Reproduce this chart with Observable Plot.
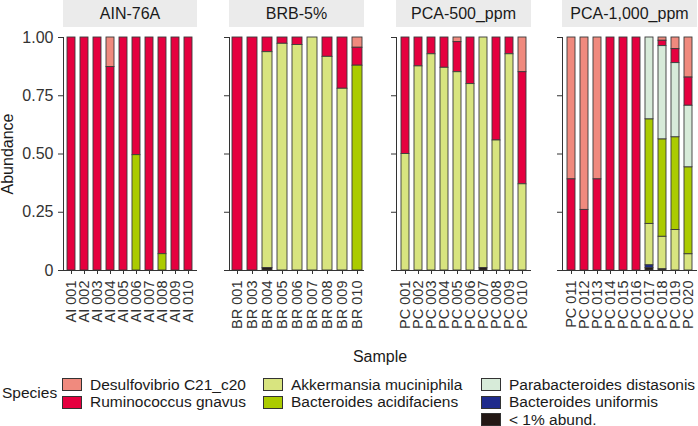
<!DOCTYPE html>
<html><head><meta charset="utf-8">
<script src="https://cdn.jsdelivr.net/npm/d3@7"></script>
<script src="https://cdn.jsdelivr.net/npm/@observablehq/plot@0.6"></script>
<style>
body{margin:0;background:#fff;}
#chart{position:relative;width:698px;height:426px;overflow:hidden;font-family:"Liberation Sans",Arial,Helvetica,sans-serif;color:#1a1a1a;}
.strip{position:absolute;top:0;height:27px;background:#EBEBEB;font-size:16px;line-height:28px;text-align:center;color:#1a1a1a;}
.panel{position:absolute;top:28px;}
.title{position:absolute;font-size:16px;color:#1a1a1a;white-space:nowrap;}
.lg-box{position:absolute;width:20px;height:13px;box-sizing:border-box;border:1px solid #333;}
.lg-text{position:absolute;font-size:15.5px;line-height:18px;white-space:nowrap;color:#1a1a1a;}
</style></head><body><div id="chart"></div>
<script>
// ---- data ----
const panelNames = ["AIN-76A", "BRB-5%", "PCA-500_ppm", "PCA-1,000_ppm"];
const samplesAIN = ["AI 001","AI 002","AI 003","AI 004","AI 005","AI 006","AI 007","AI 008","AI 009","AI 010"];
const samplesBRB = ["BR 001","BR 003","BR 004","BR 005","BR 006","BR 007","BR 008","BR 009","BR 010"];
const samplesPCA500 = ["PC 001","PC 002","PC 003","PC 004","PC 005","PC 006","PC 007","PC 008","PC 009","PC 010"];
const samplesPCA1000 = ["PC 011","PC 012","PC 013","PC 014","PC 015","PC 016","PC 017","PC 018","PC 019","PC 020"];

// legend order
const species = ["Desulfovibrio C21_c20","Ruminococcus gnavus","Akkermansia muciniphila","Bacteroides acidifaciens","Parabacteroides distasonis","Bacteroides uniformis","< 1% abund."];
const speciesColors = ["#F08A7E","#E5003F","#D8E47F","#ABCB00","#D7EBD9","#1F2B8C","#231815"];
// stacking order, bottom to top
const stackOrder = ["< 1% abund.","Bacteroides uniformis","Akkermansia muciniphila","Bacteroides acidifaciens","Parabacteroides distasonis","Ruminococcus gnavus","Desulfovibrio C21_c20"];

// values per sample, in the order AIN (10), BRB (9), PCA-500 (10), PCA-1,000 (10)
const desulfovibrio = [0,0,0,0.127,0,0,0,0,0,0,  0,0,0,0,0,0,0,0,0.044,  0,0,0,0,0.02,0,0,0,0,0.149,  0.609,0.74,0.609,0,0,0,0,0.014,0.05,0.172];
const ruminococcus  = [1,1,1,0.873,1,0.505,1,0.93,1,1,  1,1,0.063,0.027,0.032,0,0.083,0.22,0.077,  0.5,0.124,0.072,0.13,0.129,0.2,0,0.442,0.072,0.481,  0.391,0.26,0.391,1,1,1,0,0.023,0.06,0.121];
const akkermansia   = [0,0,0,0,0,0,0,0,0,0,  0,0,0.927,0.973,0.968,1,0.917,0.78,0,  0.5,0.876,0.928,0.87,0.851,0.8,0.99,0.558,0.928,0.37,  0,0,0,0,0,0,0.178,0.14,0.174,0.07];
const acidifaciens  = [0,0,0,0,0,0.495,0,0.07,0,0,  0,0,0,0,0,0,0,0,0.879,  0,0,0,0,0,0,0,0,0,0,  0,0,0,0,0,0,0.449,0.418,0.398,0.373];
const parabacteroides = [0,0,0,0,0,0,0,0,0,0,  0,0,0,0,0,0,0,0,0,  0,0,0,0,0,0,0,0,0,0,  0,0,0,0,0,0,0.351,0.4,0.318,0.264];
const uniformis     = [0,0,0,0,0,0,0,0,0,0,  0,0,0,0,0,0,0,0,0,  0,0,0,0,0,0,0,0,0,0,  0,0,0,0,0,0,0.012,0,0,0];
const lessThan1     = [0,0,0,0,0,0,0,0,0,0,  0,0,0.01,0,0,0,0,0,0,  0,0,0,0,0,0,0.01,0,0,0,  0,0,0,0,0,0,0.01,0.005,0,0];

const yTicks = [0, 0.25, 0.5, 0.75, 1];

// ---- build table ----
const panelSamples = [samplesAIN, samplesBRB, samplesPCA500, samplesPCA1000];
const seriesBySpecies = [desulfovibrio, ruminococcus, akkermansia, acidifaciens, parabacteroides, uniformis, lessThan1];
const rows = [];
let idx = 0;
panelSamples.forEach((list, p) => {
  list.forEach(s => {
    species.forEach((sp, j) => {
      const v = seriesBySpecies[j][idx];
      if (v > 0) rows.push({panel: panelNames[p], sample: s, species: sp, value: v});
    });
    idx++;
  });
});

// ---- layout ----
const chart = document.getElementById("chart");
const plotLeft = [63, 229, 396, 562];
const plotRight = [197, 364, 531, 697];
const font = '"Liberation Sans", Arial, Helvetica, sans-serif';
const axisColor = "#333";

panelNames.forEach((name, p) => {
  const strip = document.createElement("div");
  strip.className = "strip";
  strip.style.left = plotLeft[p] + "px";
  strip.style.width = (plotRight[p] - plotLeft[p]) + "px";
  strip.textContent = name;
  chart.appendChild(strip);

  const mL = p === 0 ? 63 : 8;
  const svgLeft = plotLeft[p] - mL;
  const width = plotRight[p] - svgLeft + 1;
  const first = p === 0;
  const plot = Plot.plot({
    width,
    height: 310,
    marginLeft: mL,
    marginRight: 1,
    marginTop: 9,
    marginBottom: 68,
    style: {fontFamily: font, background: "transparent", overflow: "visible"},
    x: {type: "band", domain: panelSamples[p], paddingInner: 0.35, paddingOuter: 0.175, label: null},
    y: {domain: [0, 1], label: null},
    color: {domain: species, range: speciesColors},
    marks: [
      Plot.barY(rows.filter(d => d.panel === name), {
        x: "sample", y: "value", fill: "species", order: stackOrder,
        stroke: "#3a3a3a", strokeWidth: 0.9, inset: 0
      }),
      Plot.ruleY([0], {stroke: axisColor, strokeWidth: 1}),
      Plot.frame({anchor: "left", stroke: axisColor, strokeWidth: 1}),
      Plot.axisY({
        ticks: yTicks, tickSize: 5, tickPadding: 5, fontSize: 16,
        tickFormat: first ? (d => d === 0 ? "0" : d3.format(".2f")(d)) : (() => ""),
        color: axisColor, label: null
      }),
      Plot.axisX({
        tickSize: 4, tickPadding: 6, tickRotate: -90, fontSize: 14.5,
        color: axisColor, label: null
      })
    ]
  });
  plot.classList.add("panel");
  plot.style.position = "absolute";
  plot.style.left = svgLeft + "px";
  plot.style.top = "28px";
  chart.appendChild(plot);
});

// axis titles
const yTitle = document.createElement("div");
yTitle.className = "title";
yTitle.textContent = "Abundance";
yTitle.style.left = "8px";
yTitle.style.top = "153.5px";
yTitle.style.transform = "translate(-50%,-50%) rotate(-90deg)";
chart.appendChild(yTitle);

const xTitle = document.createElement("div");
xTitle.className = "title";
xTitle.textContent = "Sample";
xTitle.style.left = "380px";
xTitle.style.top = "357px";
xTitle.style.transform = "translate(-50%,-50%)";
chart.appendChild(xTitle);

// legend
const lgTitle = document.createElement("div");
lgTitle.className = "lg-text";
lgTitle.textContent = "Species";
lgTitle.style.left = "2px";
lgTitle.style.top = (393 - 9) + "px";
chart.appendChild(lgTitle);

const colX = [62, 263, 481];
const rowY = [384.5, 402, 419.5];
const legendCol = [0, 0, 1, 1, 2, 2, 2];
const legendRow = [0, 1, 0, 1, 0, 1, 2];
species.forEach((sp, i) => {
  const box = document.createElement("div");
  box.className = "lg-box";
  box.style.background = speciesColors[i];
  box.style.left = colX[legendCol[i]] + "px";
  box.style.top = (rowY[legendRow[i]] - 6.5) + "px";
  chart.appendChild(box);
  const t = document.createElement("div");
  t.className = "lg-text";
  t.textContent = sp;
  t.style.left = (colX[legendCol[i]] + 28) + "px";
  t.style.top = (rowY[legendRow[i]] - 9) + "px";
  chart.appendChild(t);
});
</script></body></html>
